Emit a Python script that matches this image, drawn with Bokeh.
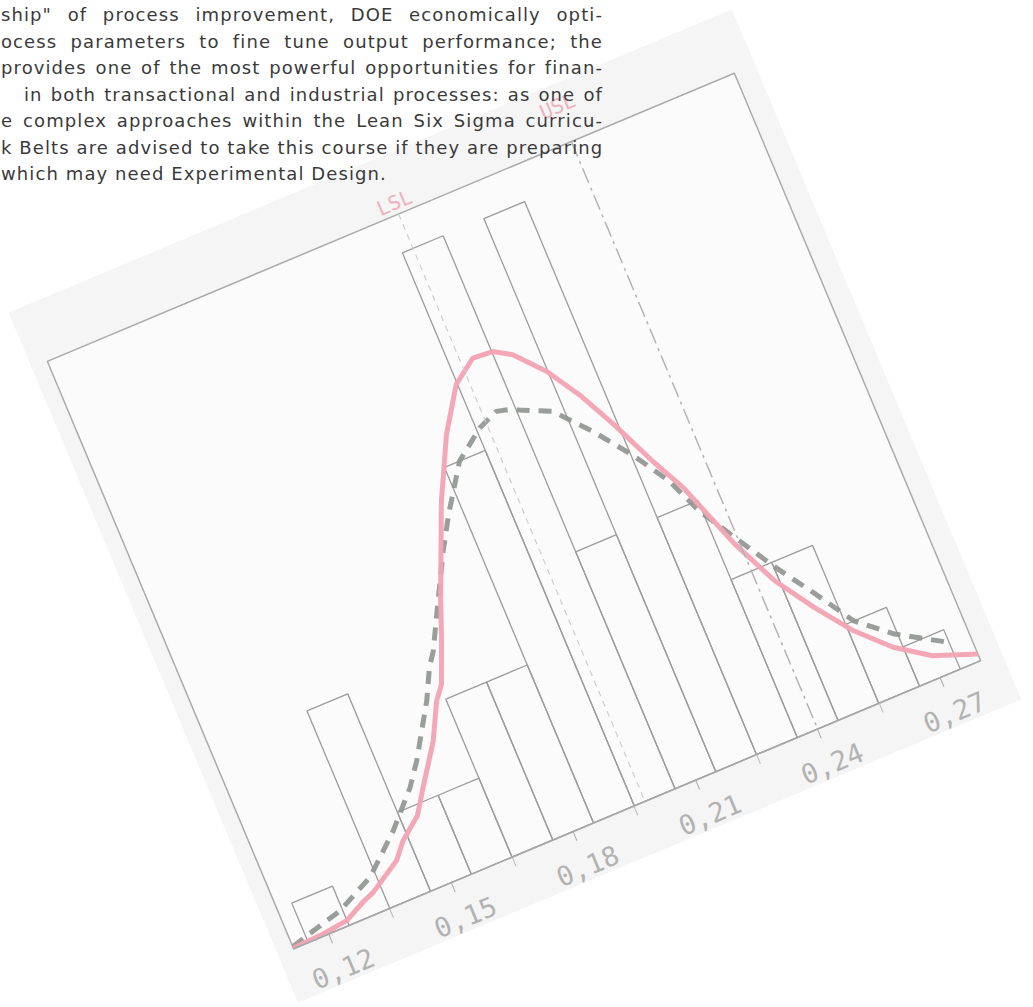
from bokeh.plotting import figure
from bokeh.models import Div, Span, Title, FixedTicker, Range1d, ColumnDataSource
from bokeh.layouts import column
from bokeh.embed import file_html
from bokeh.resources import INLINE

# ---------------- data ----------------
bin_left = [0.115, 0.125, 0.135, 0.145, 0.155, 0.165, 0.175, 0.185,
            0.195, 0.205, 0.215, 0.225, 0.235, 0.245, 0.255, 0.265]
bin_counts = [1, 0, 5, 2, 2, 4, 4, 9, 14, 6, 14, 6, 4, 4, 2, 1]
bin_width = 0.01

fit_x = [0.1114, 0.1186, 0.1250, 0.1300, 0.1330, 0.1406, 0.1437, 0.1489,
         0.1525, 0.1587, 0.1629, 0.1654, 0.1698, 0.1725, 0.1814, 0.1883,
         0.1947, 0.2005, 0.2052, 0.2091, 0.2147, 0.2195, 0.2241, 0.2288,
         0.2331, 0.2389, 0.2440, 0.2499, 0.2561, 0.2629, 0.2704, 0.2800]
fit_y = [0.02, 0.05, 0.13, 0.38, 0.50, 0.97, 1.34, 1.75,
         2.30, 3.21, 4.04, 4.36, 5.44, 6.16, 8.30, 9.69,
         10.68, 11.10, 11.06, 10.81, 10.15, 9.35, 8.40, 7.30,
         6.40, 4.72, 3.58, 2.65, 1.79, 1.08, 0.54, 0.17]

smooth_x = [0.1114, 0.1171, 0.1244, 0.1336, 0.1425, 0.1498, 0.1535, 0.1560,
            0.1609, 0.1643, 0.1666, 0.1718, 0.1774, 0.1818, 0.1887, 0.1958,
            0.2007, 0.2036, 0.2125, 0.2191, 0.2256, 0.2307, 0.2344, 0.2401,
            0.2454, 0.2514, 0.2570, 0.2641, 0.2748]
smooth_y = [0.05, 0.21, 0.40, 0.85, 1.64, 2.42, 2.93, 3.34,
            4.14, 4.82, 5.15, 6.15, 7.21, 7.96, 9.00, 9.53,
            9.74, 9.66, 9.23, 8.44, 7.53, 6.68, 5.76, 4.76,
            3.85, 2.92, 2.00, 1.37, 0.69]

tick_values = [0.12, 0.15, 0.18, 0.21, 0.24, 0.27]
tick_labels = ["0,12", "0,15", "0,18", "0,21", "0,24", "0,27"]
minor_tick_values = [0.135, 0.165, 0.195, 0.225, 0.255]

spec_values = [0.1976, 0.2400]
spec_names = ["LSL", "USL"]

text_lines = [
    'ship" of process improvement, DOE economically opti-',
    'ocess parameters to fine tune output performance; the',
    'provides one of the most powerful opportunities for finan-',
    'in both transactional and industrial processes: as one of',
    'e complex approaches within the Lean Six Sigma curricu-',
    'k Belts are advised to take this course if they are preparing',
    'which may need Experimental Design.',
]

x_min, x_max = 0.1114, 0.2800
y_max = 14.87

# The canvas is sized from the rotated host's bounding box, so the host is
# given the size whose rotated bounding box is the wanted 786 x 750 canvas.
ANGLE = 22.75
HOST_W, HOST_H = 620, 553
FRAME_W = 746

# ---------------- figure ----------------
p = figure(width=HOST_W, height=HOST_H, sizing_mode="fixed",
           x_range=Range1d(x_min, x_max), y_range=Range1d(0, y_max),
           y_axis_location=None, toolbar_location=None, output_backend="svg",
           min_border_left=17, min_border_right=23,
           min_border_top=60, min_border_bottom=52)

p.styles = {"position": "absolute", "left": "124px", "top": "132px",
            "transform": f"rotate(-{ANGLE}deg)",
            "transform-origin": "390px 379px"}

p.border_fill_color = "#f5f5f5"
p.background_fill_color = "#fbfbfb"
p.outline_line_color = "#ababab"
p.outline_line_width = 1.5
p.grid.visible = False

src = ColumnDataSource(dict(
    left=bin_left,
    right=[b + bin_width for b in bin_left],
    top=bin_counts,
))
p.quad(left="left", right="right", bottom=0, top="top", source=src,
       fill_color=None, line_color="#9c9c9c", line_width=1.3)

p.line(smooth_x, smooth_y, line_color="#8e948f", line_width=5,
       line_dash="13 9", line_alpha=0.9)
p.line(fit_x, fit_y, line_color="#f3a3b3", line_width=5, line_alpha=0.95)

spec_styles = [dict(line_dash="6 5", line_color="#cfcfcf", line_width=1.2),
               dict(line_dash="16 5 3 5", line_color="#b3b3b3", line_width=1.5)]
label_half_width = 18
for sv, nm, st in zip(spec_values, spec_names, spec_styles):
    p.add_layout(Span(location=sv, dimension="height", **st))
    off = FRAME_W * (sv - x_min) / (x_max - x_min) - label_half_width
    p.add_layout(Title(text=nm, align="left", offset=off, standoff=0,
                       text_font="DejaVu Sans Mono", text_font_style="normal",
                       text_font_size="20px", text_color="#eeb0be"),
                 "above")

ax = p.xaxis[0]
ax.ticker = FixedTicker(ticks=tick_values, minor_ticks=minor_tick_values)
ax.major_label_overrides = {v: t for v, t in zip(tick_values, tick_labels)}
ax.axis_line_color = "#a8a8a8"
ax.axis_line_width = 1.5
ax.major_tick_in = 0
ax.major_tick_out = 10
ax.minor_tick_in = 0
ax.minor_tick_out = 10
ax.major_tick_line_color = "#a8a8a8"
ax.minor_tick_line_color = "#b8b8b8"
ax.major_label_standoff = 17
ax.major_label_text_font = "DejaVu Sans Mono"
ax.major_label_text_font_size = "27px"
ax.major_label_text_color = "#b2b2b2"

# ---------------- paragraph text ----------------
line_starts = [1, 1, 1, 24, 1, 1, 1]
right_edge = 603
rows = []
for i, (txt, x0) in enumerate(zip(text_lines, line_starts)):
    just = "justify" if i < len(text_lines) - 1 else "left"
    rows.append(
        f'<div style="position:absolute; left:{x0}px; top:{i * 26.5}px; '
        f'width:{right_edge - x0}px; text-align:{just}; text-align-last:{just}; '
        f'white-space:nowrap;">{txt}</div>'
    )
html = ('<div style="position:relative; width:610px; height:186px; '
        'background:transparent; '
        'font-family:\'DejaVu Sans\'; font-size:18px; letter-spacing:1.1px; '
        'line-height:26.5px; color:#3a3a3a;">' + "".join(rows) + "</div>")

div = Div(text=html, width=610, height=186, sizing_mode="fixed",
          styles={"position": "absolute", "left": "-5px", "top": "-3px",
                  "background": "transparent", "pointer-events": "none",
                  "z-index": "5"})

layout = column(p, div)
open("out.html", "w").write(file_html(layout, INLINE))
